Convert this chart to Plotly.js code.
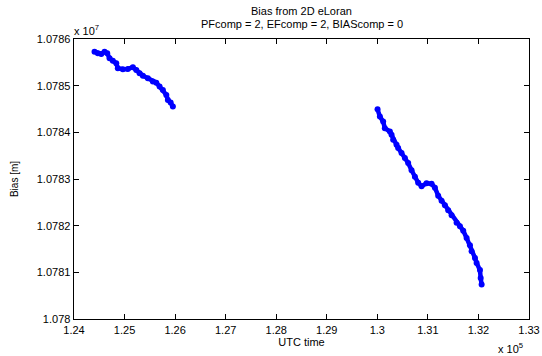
<!DOCTYPE html>
<html>
<head>
<meta charset="utf-8">
<script src="https://cdn.plot.ly/plotly-3.0.1.min.js"></script>
<style>html,body{margin:0;padding:0;background:#fff;}#chart{width:542px;height:356px;}</style>
</head>
<body>
<div id="chart"></div>
<script>
// Segment 1 (UTC time, bias in metres)
var time1 = [124406,124471,124539,124604,124657,124703,124768,124836,124867,124966,125065,125164,125232,125297,125362,125461,125560,125628,125693,125758,125826,125857,125911,125956];
var bias1 = [10780572.8,10780569.4,10780567.9,10780572.8,10780569.4,10780558.7,10780553.6,10780548.0,10780537.3,10780535.2,10780535.8,10780539.5,10780533.7,10780526.6,10780521.5,10780515.9,10780508.7,10780506.5,10780498.0,10780490.9,10780480.2,10780469.5,10780463.7,10780455.2];
// Segment 2
var time2 = [130004,130050,130115,130148,130248,130281,130313,130380,130412,130479,130545,130610,130677,130743,130808,130875,130974,131073,131139,131204,131271,131337,131402,131469,131568,131634,131699,131766,131832,131865,131931,131964,132030,132044,132063];
var bias2 = [10780449.2,10780433.8,10780423.1,10780409.0,10780401.7,10780394.6,10780384.0,10780373.3,10780366.2,10780355.5,10780344.8,10780334.1,10780318.7,10780304.8,10780292.0,10780284.5,10780290.9,10780289.8,10780281.3,10780264.2,10780253.5,10780243.8,10780233.2,10780222.5,10780206.4,10780198.5,10780189.3,10780173.7,10780158.3,10780145.0,10780130.9,10780120.2,10780104.8,10780088.1,10780073.8];

var xTickVals = [124000,125000,126000,127000,128000,129000,130000,131000,132000,133000];
var xTickText = ["1.24","1.25","1.26","1.27","1.28","1.29","1.3","1.31","1.32","1.33"];
var yTickVals = [10780000,10780100,10780200,10780300,10780400,10780500,10780600];
var yTickText = ["1.078","1.0781","1.0782","1.0783","1.0784","1.0785","1.0786"];
var titleLines = ["Bias from 2D eLoran", "PFcomp = 2, EFcomp = 2, BIAScomp = 0"];

var FONT = "Liberation Sans, Arial, Helvetica, sans-serif";
var style = {mode:'lines+markers', line:{color:'#0000ff', width:4.5}, marker:{color:'#0000ff', size:6}, showlegend:false, hoverinfo:'skip'};

var traces = [
  Object.assign({x:time1, y:bias1}, style),
  Object.assign({x:time2, y:bias2}, style)
];

var axisCommon = {
  showgrid:false, zeroline:false, showline:true, linecolor:'#000', linewidth:1.4,
  mirror:'allticks', ticks:'inside', ticklen:5, tickcolor:'#000', tickwidth:1,
  tickfont:{family:FONT, size:11, color:'#000'}
};

var layout = {
  width:542, height:356,
  margin:{l:74, r:13, t:39, b:37, pad:0},
  paper_bgcolor:'#fff', plot_bgcolor:'#fff',
  font:{family:FONT, size:11, color:'#000'},
  xaxis:Object.assign({}, axisCommon, {range:[124000,133000], tickmode:'array', tickvals:xTickVals, ticktext:xTickText,
         title:{text:'UTC time', font:{family:FONT, size:11, color:'#000'}, standoff:1}}),
  yaxis:Object.assign({}, axisCommon, {range:[10780000,10780600], tickmode:'array', tickvals:yTickVals, ticktext:yTickText,
         title:{text:'Bias [m]', font:{family:FONT, size:10, color:'#000'}, standoff:16}}),
  annotations:[
    {text:titleLines[0], xref:'paper', yref:'paper', x:0.5, y:1, xanchor:'center', yanchor:'middle', yshift:28,
     showarrow:false, font:{family:FONT, size:11, color:'#000'}},
    {text:titleLines[1], xref:'paper', yref:'paper', x:0.5, y:1, xanchor:'center', yanchor:'middle', yshift:15,
     showarrow:false, font:{family:FONT, size:11, color:'#000'}},
    {text:'x 10<sup>7</sup>', xref:'paper', yref:'paper', x:0, y:1, xanchor:'left', yanchor:'bottom', yshift:0, xshift:-2,
     showarrow:false, font:{family:FONT, size:11, color:'#000'}},
    {text:'x 10<sup>5</sup>', xref:'paper', yref:'paper', x:1, y:0, xanchor:'right', yanchor:'top', yshift:-20, xshift:-4,
     showarrow:false, font:{family:FONT, size:11, color:'#000'}}
  ]
};

Plotly.newPlot('chart', traces, layout, {displayModeBar:false, staticPlot:true});
</script>
</body>
</html>
